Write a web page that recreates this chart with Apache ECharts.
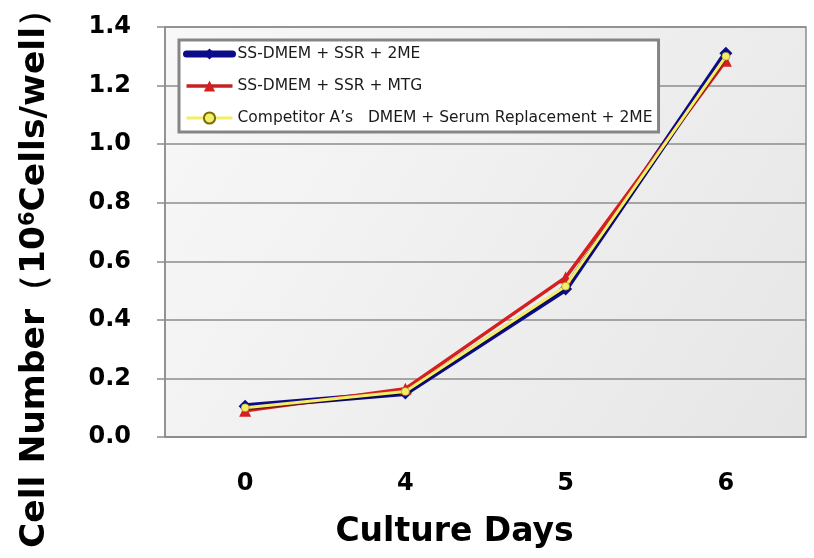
<!DOCTYPE html>
<html>
<head>
<meta charset="utf-8">
<script src="https://cdn.jsdelivr.net/npm/echarts@6/dist/echarts.min.js"></script>
<style>html,body{margin:0;padding:0;background:#fff;}#c{width:814px;height:558px;}</style>
</head>
<body>
<div id="c"></div>
<script>
var categories = ['0', '4', '5', '6'];
var seriesNames = ['SS-DMEM + SSR + 2ME', 'SS-DMEM + SSR + MTG', 'Competitor A\u2019s\u00a0\u00a0 DMEM + Serum Replacement + 2ME'];
var blueValues = [0.105, 0.15, 0.505, 1.31];
var redValues = [0.09, 0.165, 0.545, 1.285];
var yellowValues = [0.10, 0.155, 0.515, 1.30];
var yTicks = [0, 0.2, 0.4, 0.6, 0.8, 1.0, 1.2, 1.4];

var chart = echarts.init(document.getElementById('c'));
var boldFont = 'DejaVu Sans';
chart.setOption({
  backgroundColor: '#ffffff',
  animation: false,
  grid: {
    left: 165, right: 8, top: 27, bottom: 121,
    containLabel: false,
    outerBoundsMode: 'none',
    show: true,
    borderColor: '#8c8c8c', borderWidth: 1.5,
    backgroundColor: {
      type: 'linear', x: 0, y: 0, x2: 1, y2: 1,
      colorStops: [{offset: 0, color: '#f8f8f8'}, {offset: 1, color: '#e6e6e6'}]
    }
  },
  legend: {
    orient: 'vertical',
    left: 179, top: 40,
    padding: [6, 6, 6, 4],
    itemWidth: 46, itemHeight: 14, itemGap: 16,
    backgroundColor: '#ffffff',
    borderColor: '#858585', borderWidth: 3,
    textStyle: {fontFamily: 'DejaVu Sans', fontSize: 15.5, color: '#1a1a1a'},
    data: [
      {name: seriesNames[0], lineStyle: {width: 7, color: '#0c0c8a', cap: 'round'}},
      {name: seriesNames[1], lineStyle: {width: 3.5, color: '#c42222'}},
      {name: seriesNames[2], lineStyle: {width: 3, color: '#f3ee6a'}}
    ]
  },
  xAxis: {
    type: 'category',
    data: categories,
    boundaryGap: true,
    name: 'Culture Days',
    nameLocation: 'middle',
    nameGap: 79,
    nameTextStyle: {fontFamily: boldFont, fontWeight: 'bold', fontSize: 33, color: '#000', padding: [0, 62, 0, 0]},
    axisLine: {lineStyle: {color: '#8c8c8c', width: 1.5}},
    axisTick: {alignWithLabel: true, length: 8, lineStyle: {color: '#8c8c8c', width: 1.5}},
    axisLabel: {fontFamily: boldFont, fontWeight: 'bold', fontSize: 24, color: '#000', margin: 35}
  },
  yAxis: {
    type: 'value',
    min: 0, max: 1.4, interval: 0.2,
    name: 'Cell Number\uff08{s|10}{sup|6}{s|Cells/well}\uff09',
    nameLocation: 'middle',
    nameGap: 112,
    nameTextStyle: {
      fontFamily: boldFont, fontWeight: 'bold', fontSize: 34.5, color: '#000',
      padding: [0, 76, 0, 0],
      rich: {
        s: {fontFamily: boldFont, fontWeight: 'bold', fontSize: 34.5, color: '#000'},
        sup: {fontFamily: boldFont, fontWeight: 'bold', fontSize: 21, color: '#000', verticalAlign: 'top', padding: [0, 0, 14, 0]}
      }
    },
    axisLine: {show: true, lineStyle: {color: '#8c8c8c', width: 1.5}},
    axisTick: {show: true, length: 8, lineStyle: {color: '#8c8c8c', width: 1.5}},
    splitLine: {lineStyle: {color: '#8c8c8c', width: 1.5}},
    axisLabel: {
      fontFamily: boldFont, fontWeight: 'bold', fontSize: 24, color: '#000', margin: 34,
      formatter: function (v) { return v.toFixed(1); }
    }
  },
  series: [
    {
      name: seriesNames[0], type: 'line', data: blueValues,
      symbol: 'diamond', symbolSize: 13,
      lineStyle: {color: '#0c0c8a', width: 6, cap: 'round'},
      itemStyle: {color: '#0c0c8a'}, z: 2
    },
    {
      name: seriesNames[1], type: 'line', data: redValues,
      symbol: 'triangle', symbolSize: 12,
      lineStyle: {color: '#d61f1f', width: 3.5},
      itemStyle: {color: '#d61f1f'}, z: 3
    },
    {
      name: seriesNames[2], type: 'line', data: yellowValues,
      symbol: 'circle', symbolSize: 8,
      lineStyle: {color: '#f3ee6a', width: 3, shadowColor: 'rgba(0,0,0,0.6)', shadowBlur: 1, shadowOffsetY: 1},
      itemStyle: {color: '#f3ee6a', borderColor: '#7a6a00', borderWidth: 0.5}, z: 4
    }
  ]
});
</script>
</body>
</html>
